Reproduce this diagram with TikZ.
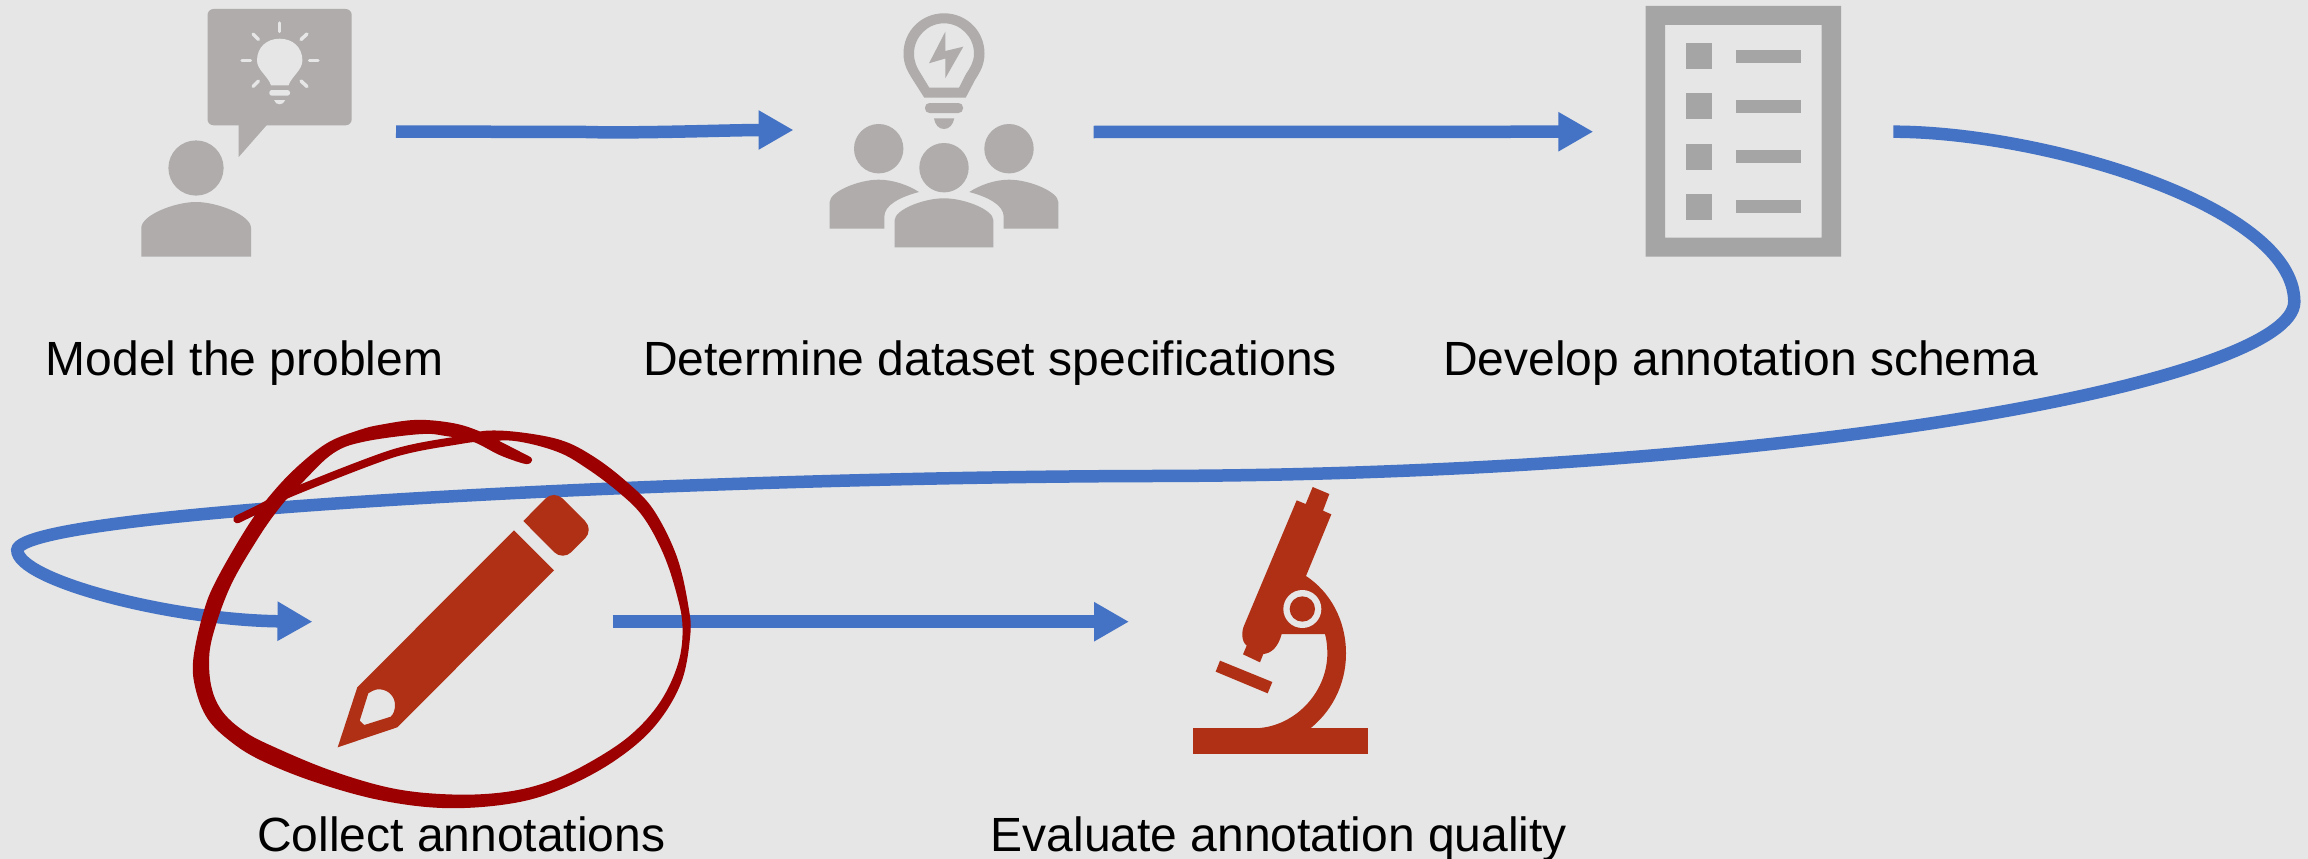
\documentclass[tikz,border=0pt]{standalone}
\usepackage{fontspec}
\setmainfont{Liberation Sans}
\usetikzlibrary{arrows.meta}
\definecolor{bgc}{HTML}{E6E6E6}
\definecolor{greyi}{HTML}{AFACAB}
\definecolor{greyd}{HTML}{A5A5A5}
\definecolor{bluec}{HTML}{4472C4}
\definecolor{redi}{HTML}{B03016}
\definecolor{redl}{HTML}{9C0000}
\tikzset{
  link/.style={draw=bluec,line width=12.5pt,-{Triangle[length=35pt,width=37pt,fill=bluec]}},
  lbl/.style={font=\fontsize{48}{52}\selectfont,text=black,inner sep=0pt,anchor=base west},
  iconbox/.style={minimum width=300pt,minimum height=100pt,inner sep=0pt,outer sep=0pt},
  gi/.style={fill=greyi,draw=none},
  gd/.style={fill=greyd,draw=none},
  ri/.style={fill=redi,draw=none},
  ray/.style={draw=bgc,line width=3.5pt,line cap=round},
  ink/.style={fill=redl,draw=redl,line width=1.6pt,line join=round},
  zoomA/.style={x=0.33333pt,y=-0.33333pt},
}
\begin{document}
\begin{tikzpicture}[x=1pt,y=-1pt]
\fill[bgc] (0,0) rectangle (2308,859);
\useasboundingbox (0,0) rectangle (2308,859);
% anchors of the five pictures
\node[iconbox] (model) at (246,131.5) {};
\node[iconbox] (spec) at (943.5,132) {};
\node[iconbox] (schema) at (1743.3,131.7) {};
\node[iconbox] (collect) at (462.5,621.7) {};
\node[iconbox] (evaluate) at (1279,621.7) {};
% connectors
\draw[link] (model.east) -- ++(190,0.5) .. controls +(50,1.5) and +(-60,0) .. ([yshift=2pt]spec.west);
\draw[link] (spec.east) -- (schema.west);
\draw[link] (schema.east) .. controls +(147,0) and (2294,205) .. (2294.3,301.7)
  .. controls (2294,380) and (1800,475) .. (1150,476)
  .. controls (700,477) and (20,510) .. (17.3,550)
  .. controls (17,580) and (170,620) .. (collect.west);
\draw[link] (collect.east) -- (evaluate.west);
% icon: model the problem
\fill[gi,rounded corners=6pt] (207.5,9) rectangle (351.7,125.3);
\fill[gi] (238.7,124) -- (238.7,157) -- (267.7,124) -- cycle;
\fill[bgc] (271,85.3) .. controls (268,76) and (257,70) .. (257,60.5) .. controls (257,47) and (267,38.7) .. (279.7,38.7) .. controls (292.4,38.7) and (302.4,47) .. (302.4,60.5) .. controls (302.4,70) and (292,76) .. (288.5,85.3) -- cycle;
\fill[bgc,rounded corners=2.5pt] (269.3,90) rectangle (290,95.7);
\fill[bgc] (274,100) -- (285.3,100) .. controls (284,103) and (282,104.3) .. (279.7,104.3) .. controls (277,104.3) and (275,103) .. (274,100) -- cycle;
\draw[ray] (279.7,23) -- (279.7,31.5);
\draw[ray] (253,34) -- (258.5,39.5);
\draw[ray] (307,34) -- (301,39.5);
\draw[ray] (242,60.3) -- (250.5,60.3);
\draw[ray] (309.5,60.3) -- (318,60.3);
\draw[ray] (253,86.5) -- (258.5,81);
\draw[ray] (307,86.5) -- (301,81);
\fill[gi] (196,168) circle (27.6);
\fill[gi] (141.3,256.7) -- (141.3,228) .. controls (141.3,215) and (175,202) .. (196,202) .. controls (217,202) and (251,215) .. (251,228) -- (251,256.7) -- cycle;
% icon: dataset specifications
\fill[gi,even odd rule] (924.3,97.7) -- (913,80) .. controls (908,72) and (903.5,65) .. (903.5,53.5) .. controls (903.5,31) and (921.5,13.3) .. (944,13.3) .. controls (966.5,13.3) and (984.5,31) .. (984.5,53.5) .. controls (984.5,65) and (980,72) .. (975,80) -- (965.7,97.7) -- cycle
 (929.3,87.7) -- (921,74) .. controls (917,68) and (914,62) .. (914,53.5) .. controls (914,37) and (927.5,23.3) .. (944,23.3) .. controls (960.5,23.3) and (974,37) .. (974,53.5) .. controls (974,62) and (970,68) .. (966,74) -- (959,87.7) -- cycle;
\fill[gi] (945.3,31.7) -- (929,63.3) -- (945.3,58.5) -- (945.3,78.3) -- (963.3,46.7) -- (945.3,51) -- cycle;
\fill[gi,rounded corners=4.5pt] (925,103) rectangle (963,113);
\fill[gi] (934,118.3) -- (954.3,118.3) .. controls (953,125) and (949,129) .. (944,129) .. controls (939,129) and (935,125) .. (934,118.3) -- cycle;
\fill[gi] (878.7,148.7) circle (24.7);
\fill[gi] (1009,148.7) circle (24.7);
\fill[gi] (944,167.7) circle (24.7);
\fill[gi] (829.7,228.7) -- (829.7,202) .. controls (829.7,192) and (858,179.7) .. (878.7,179.7) .. controls (893,179.7) and (908,185) .. (919,192) .. controls (900,197) and (884.3,205) .. (884.3,216.7) -- (884.3,228.7) -- cycle;
\fill[gi] (1058.3,228.7) -- (1058.3,202) .. controls (1058.3,192) and (1030,179.7) .. (1009,179.7) .. controls (995,179.7) and (980,185) .. (969.3,192) .. controls (988,197) and (1003.7,205) .. (1003.7,216.7) -- (1003.7,228.7) -- cycle;
\fill[gi] (894.7,247.3) -- (894.7,220) .. controls (894.7,210) and (923,198.3) .. (944,198.3) .. controls (965,198.3) and (993.3,210) .. (993.3,220) -- (993.3,247.3) -- cycle;
% icon: annotation schema
\fill[gd,even odd rule] (1645.7,6) rectangle (1841,256.7) (1665,25) rectangle (1821.7,237.7);
\foreach \yy in {43,93.3,143.7,193.7} {
  \fill[gd] (1686,\yy) rectangle +(26.3,26);
  \fill[gd] (1736.3,\yy+6.7) rectangle +(64.4,13);
}
% icon: pencil
\fill[ri,even odd rule] (337.7,747.3) -- (357.3,687.3) -- (514,530.3) -- (554,570.3) -- (397.3,727.3) -- cycle
  (368.3,693.3) .. controls (374,689.5) and (378,689) .. (380,689.3) .. controls (389,690) and (395,697) .. (395,705) .. controls (395,710) and (393.5,714) .. (390.7,716.7) -- (364.3,725) -- (359.7,720.7) -- cycle;
\fill[ri,rounded corners=12pt] (523.3,521) -- (554,490) -- (593.7,529.7) -- (562.7,560.7) [sharp corners] -- cycle;
% icon: microscope
\begin{scope}[shift={(1170,470)},zoomA]
\fill[ri] (68,775) rectangle (595,851);
\fill[ri] (150,572) -- (307,636) -- (293,670) -- (137,605) -- cycle;
\fill[ri] (380,91) -- (407,102) -- (428,51) -- (478,72) -- (459,122) -- (484,133) -- (408,318)
  .. controls (480,365) and (528,450) .. (528,550) .. controls (528,650) and (480,730) .. (415,780)
  -- (250,780) -- (250,775) .. controls (370,775) and (472,670) .. (472,550) .. controls (472,530) and (470,510) .. (465,492)
  -- (335,492) .. controls (325,530) and (305,550) .. (280,552) -- (270,577) -- (219,553) -- (230,527)
  .. controls (215,515) and (212,485) .. (225,460) -- cycle;
\fill[bgc] (397,417) circle (57);
\fill[ri] (397,417) circle (38);
\end{scope}
% hand-drawn circle
\begin{scope}[shift={(180,410)},zoomA]
\filldraw[ink] plot[smooth,tension=0.6] coordinates {(1050,143) (970,102) (900,67) (820,42) (710,32) (600,47) (540,62) (450,97) (370,157) (290,237) (210,342) (112,510) (72,610) (42,750) (50,840) (85,925) (150,990) (240,1047) (400,1112) (600,1168) (800,1192) (1000,1177) (1150,1132) (1300,1052) (1420,950) (1500,820) (1528,680) (1523,590) (1488,440) (1418,300) (1338,217) (1240,142) (1140,92) (1000,67) (900,67) (880,93) (1000,90) (1130,122) (1220,172) (1320,247) (1392,320) (1452,430) (1492,550) (1510,650) (1497,760) (1442,878) (1352,978) (1232,1058) (1110,1116) (980,1148) (820,1156) (640,1138) (450,1083) (270,1008) (190,965) (130,912) (97,850) (85,770) (95,680) (148,530) (228,390) (298,290) (368,213) (458,128) (550,93) (720,70) (800,76) (880,93) (960,133) (1030,158) (1050,157) (1054,150) (1050,143)};
\draw[redl,line width=8pt,line cap=round] plot[smooth,tension=0.5] coordinates {(172,328) (240,295) (340,245) (640,130) (840,90) (920,80)};
\end{scope}
% labels
\node[lbl] (l1) at (45.6,375) {Model the problem};
\node[lbl] (l2) at (643,375) {Determine dataset specifications};
\node[lbl] (l3) at (1443,375) {Develop annotation schema};
\node[lbl] (l4) at (257,851.5) {Collect annotations};
\node[lbl] (l5) at (990.5,851.5) {Evaluate annotation quality};
\end{tikzpicture}
\end{document}
